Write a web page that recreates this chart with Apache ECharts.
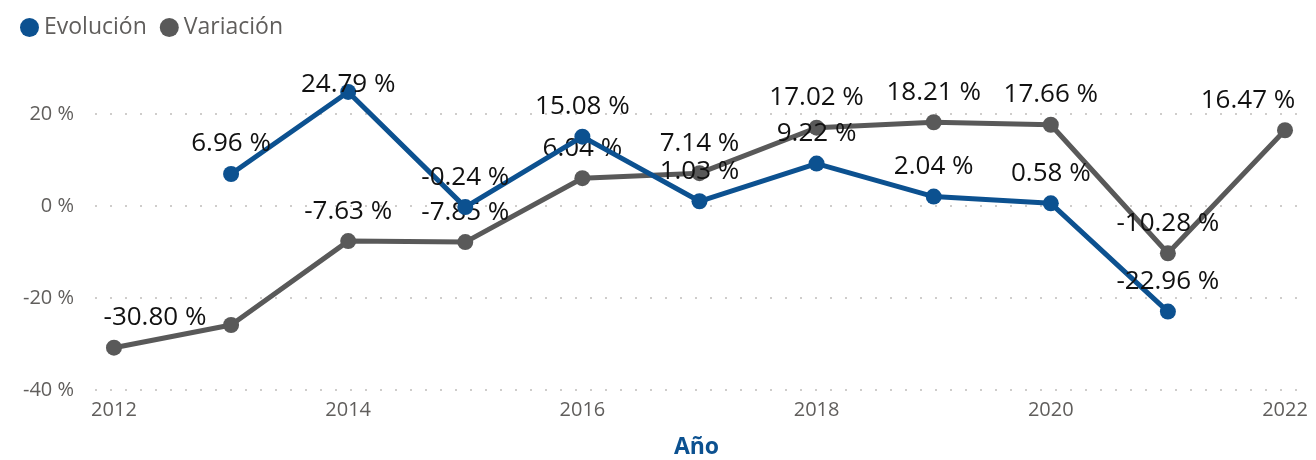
<!DOCTYPE html>
<html>
<head>
<meta charset="utf-8">
<script src="https://cdn.jsdelivr.net/npm/echarts@6/dist/echarts.min.js"></script>
<style>
  html, body { margin: 0; padding: 0; background: #fff; }
  #chart { width: 1316px; height: 460px; }
</style>
</head>
<body>
<div id="chart"></div>
<script>
// datos
const years = [2012, 2013, 2014, 2015, 2016, 2017, 2018, 2019, 2020, 2021, 2022];
const evolucion = [null, 6.96, 24.79, -0.24, 15.08, 1.03, 9.22, 2.04, 0.58, -22.96, null];
const variacion = [-30.80, -25.87, -7.63, -7.85, 6.04, 7.14, 17.02, 18.21, 17.66, -10.28, 16.47];
const xTicks = [2012, 2014, 2016, 2018, 2020, 2022];

const font = "'Open Sans', 'Noto Sans', sans-serif";
const blue = "#0c5190";
const gray = "#595959";

// ajustes de etiquetas (como en el original, algunas se desplazan)
const labelTweak = {
  evolucion: { 2014: { offset: [0, 23] } },
  variacion: { 2012: { offset: [41, 0] }, 2013: { show: false }, 2022: { offset: [-37, 0] } }
};

function buildData(values, tweaks) {
  return years.map((y, i) => {
    if (values[i] === null) return [y, null];
    const item = { value: [y, values[i]] };
    if (tweaks[y]) item.label = tweaks[y];
    return item;
  });
}

const labelStyle = {
  show: true,
  position: "top",
  distance: 9,
  fontSize: 26,
  fontFamily: font,
  color: "#111",
  formatter: (p) => p.value[1].toFixed(2) + " %"
};

const chart = echarts.init(document.getElementById("chart"));
chart.setOption({
  animation: false,
  textStyle: { fontFamily: font },
  legend: {
    left: 15,
    top: 11,
    icon: "circle",
    itemWidth: 19,
    itemHeight: 19,
    itemGap: 13,
    textStyle: { fontSize: 23, color: "#605e5c", fontFamily: font },
    data: ["Evolución", "Variación"]
  },
  grid: { left: 95, right: 18, top: 114, bottom: 70, outerBoundsMode: "none" },
  xAxis: {
    type: "value",
    min: 2011.838,
    max: 2022.111,
    name: "Año",
    nameLocation: "middle",
    nameGap: 46,
    nameTextStyle: { fontSize: 23, fontWeight: "bold", color: blue, fontFamily: font },
    axisLine: { show: false },
    axisTick: { show: false },
    splitLine: { show: false },
    axisLabel: {
      customValues: xTicks,
      margin: 10,
      fontSize: 20,
      color: "#605e5c",
      fontFamily: font,
      formatter: (v) => String(v)
    }
  },
  yAxis: {
    type: "value",
    min: -40,
    max: 20,
    interval: 20,
    axisLine: { show: false },
    axisTick: { show: false },
    axisLabel: {
      margin: 21,
      fontSize: 20,
      color: "#605e5c",
      fontFamily: font,
      formatter: (v) => v + " %"
    },
    splitLine: { lineStyle: { type: [2, 13], color: "#cfcdcb", width: 2 } }
  },
  series: [
    {
      name: "Evolución",
      type: "line",
      clip: false,
      data: buildData(evolucion, labelTweak.evolucion),
      symbol: "circle",
      symbolSize: 16,
      lineStyle: { width: 5, color: blue },
      itemStyle: { color: blue },
      label: labelStyle,
      z: 3
    },
    {
      name: "Variación",
      type: "line",
      clip: false,
      data: buildData(variacion, labelTweak.variacion),
      symbol: "circle",
      symbolSize: 16,
      lineStyle: { width: 5, color: gray },
      itemStyle: { color: gray },
      label: labelStyle,
      z: 2
    }
  ]
});
</script>
</body>
</html>
